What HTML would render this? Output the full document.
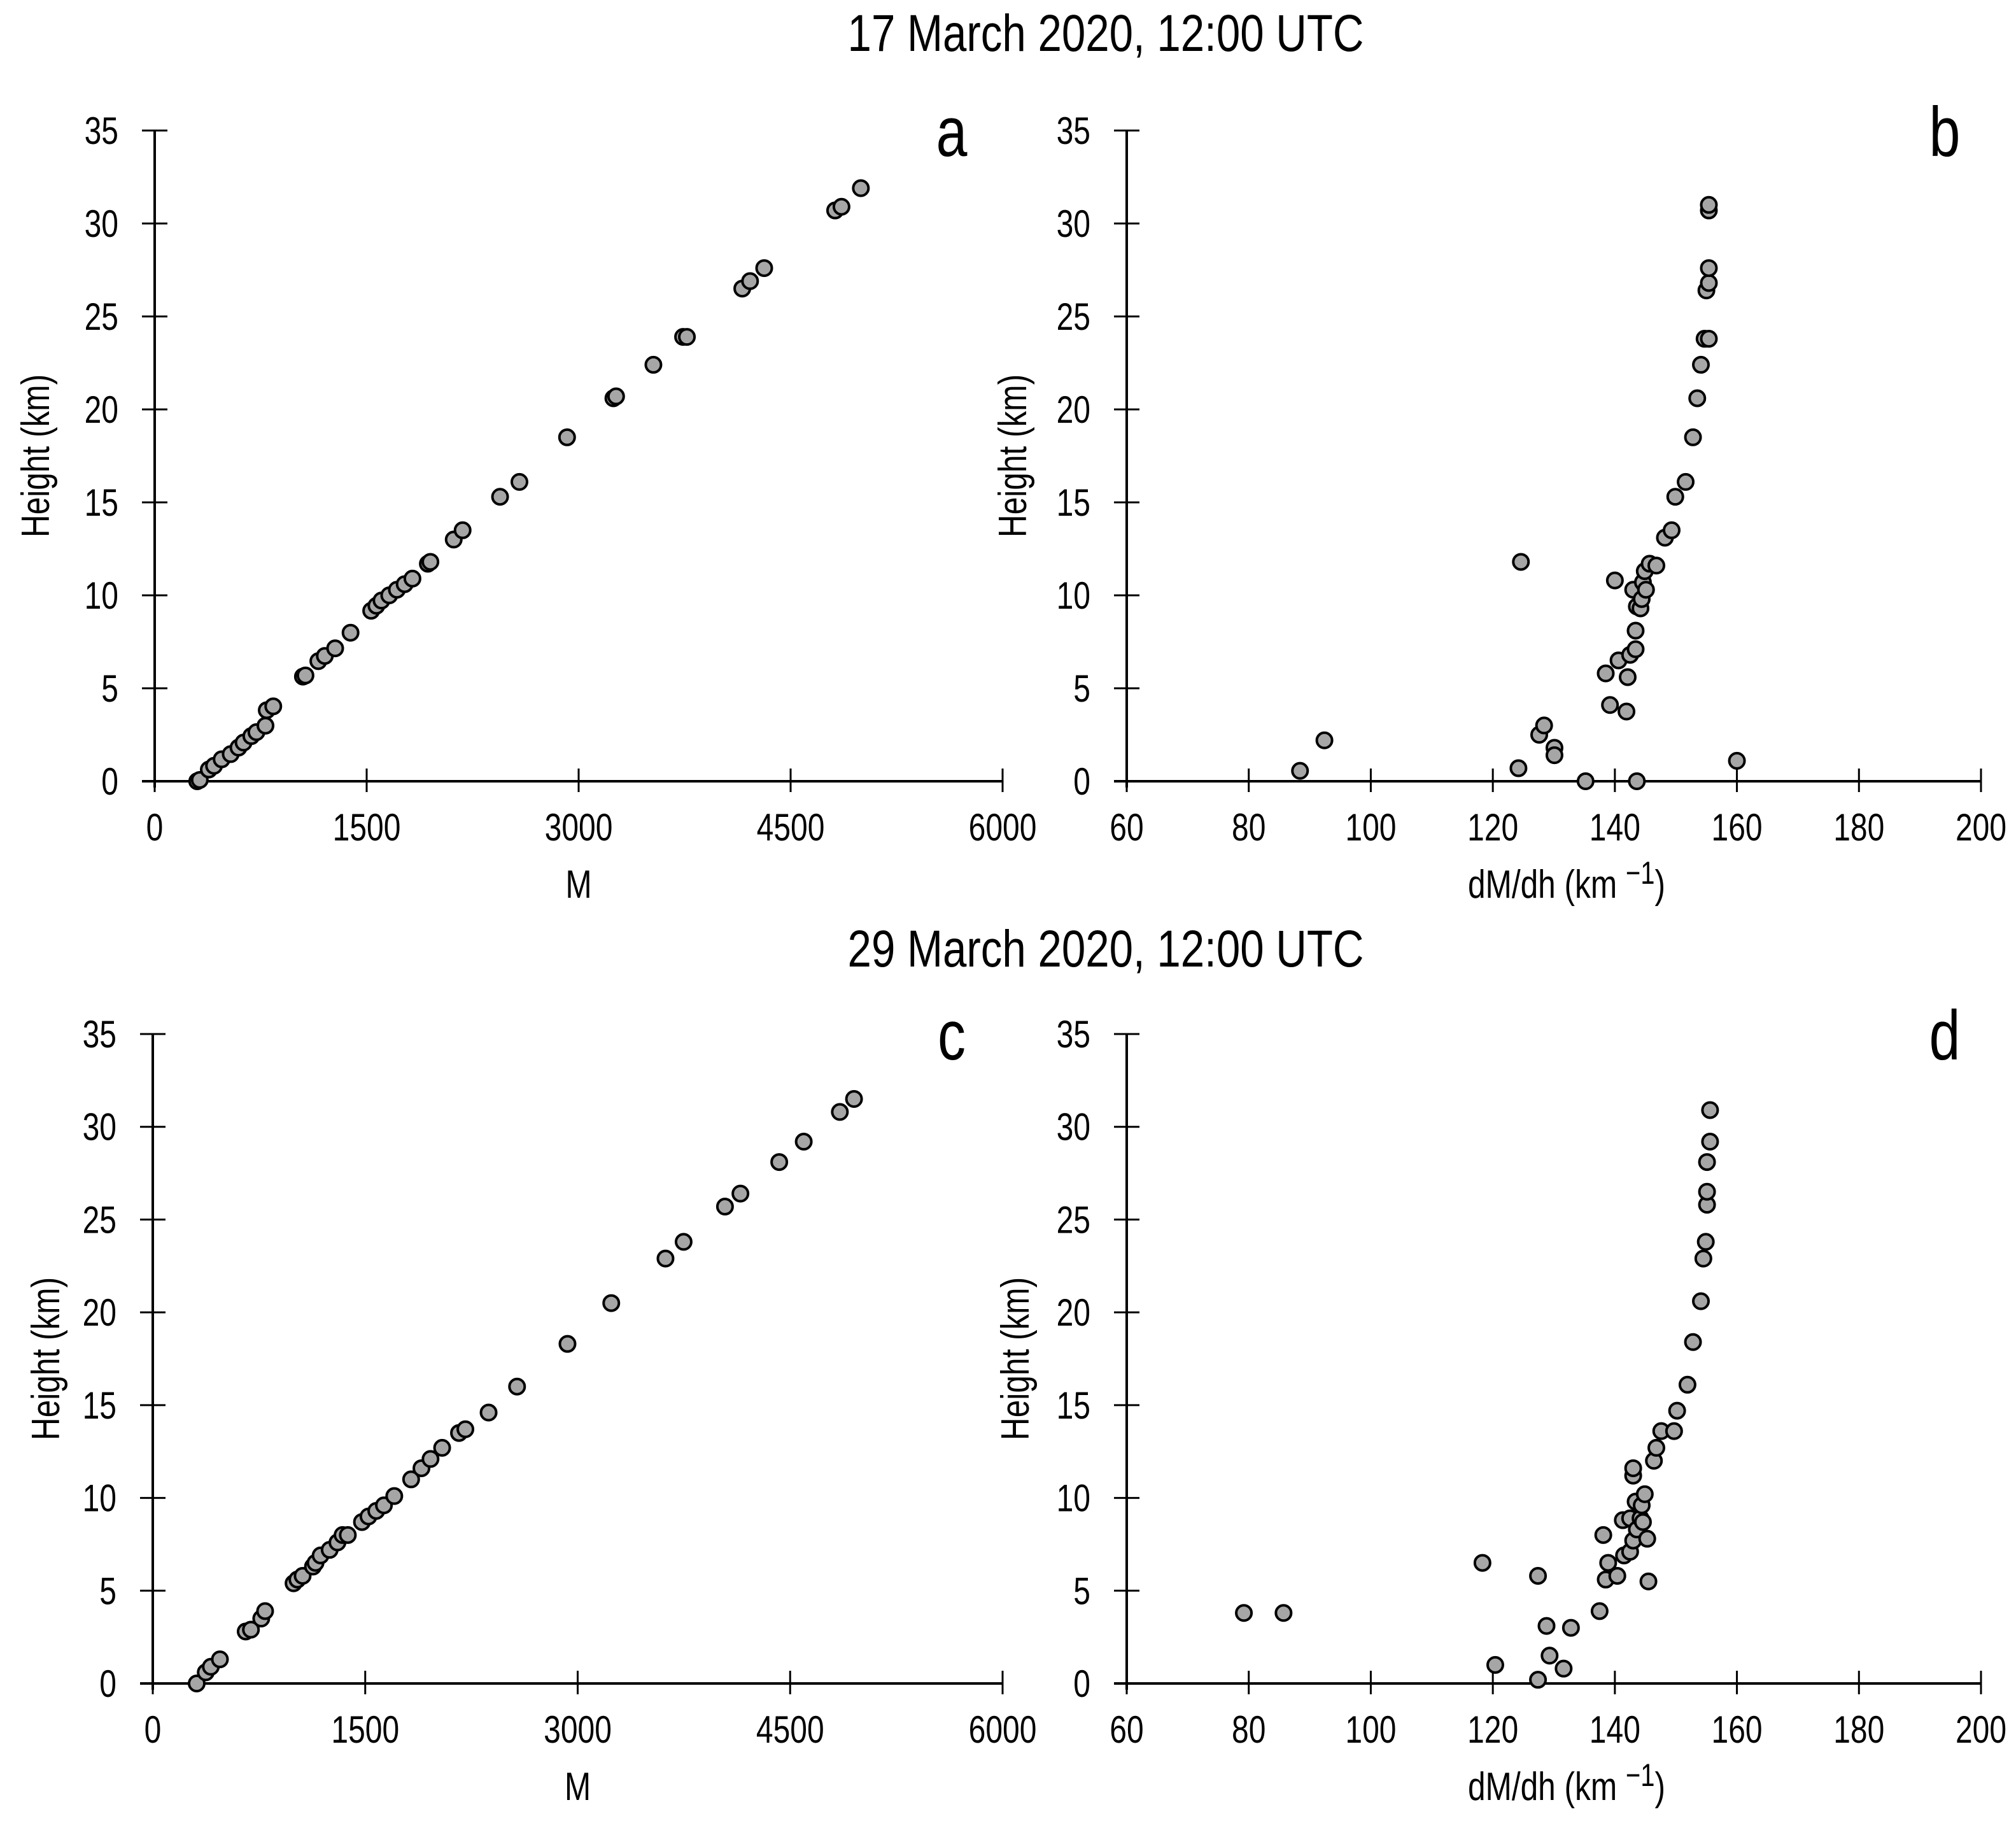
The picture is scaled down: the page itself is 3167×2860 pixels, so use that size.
<!DOCTYPE html>
<html><head><meta charset="utf-8"><style>
html,body{margin:0;padding:0;background:#fff}
svg{display:block}
text{font-family:"Liberation Sans Narrow","Liberation Sans",sans-serif;fill:#000}
</style></head><body>
<svg id="fig" width="3167" height="2860" viewBox="0 0 3167 2860" xmlns="http://www.w3.org/2000/svg">
<text transform="translate(1737,80) scale(0.82,1)" font-size="82" text-anchor="middle">17 March 2020, 12:00 UTC</text>
<text transform="translate(1737,1518) scale(0.82,1)" font-size="82" text-anchor="middle">29 March 2020, 12:00 UTC</text>
</svg>
<script>
// Panel a: M vs height
const aM=[301,319,383,420,474,538,593,629,684,720,784,793,839,1049,1067,1158,1204,1277,1386,1532,1569,1605,1660,1714,1769,1824,1933,1951,2116,2179,2444,2581,2918,3246,3265,3529,3739,3766,4158,4213,4313,4815,4860,4997];
const aH=[0,0.07,0.63,0.83,1.18,1.46,1.81,2.08,2.43,2.64,2.99,3.82,4.03,5.63,5.69,6.46,6.74,7.15,7.99,9.17,9.44,9.72,10.0,10.3,10.6,10.9,11.7,11.8,13.0,13.5,15.3,16.1,18.5,20.6,20.7,22.4,23.9,23.9,26.5,26.9,27.6,30.7,30.9,31.9];
// Panel b: dM/dh vs height
const bD=[88.4,92.4,124.2,127.6,128.4,130.1,130.1,135.2,143.6,160,124.6,140,138.5,139.2,141.9,140.6,142.1,142.5,143.4,143.4,143,143.6,144.2,144.4,144.6,144.9,145.1,145.7,146.8,148.2,149.3,149.9,151.6,152.8,153.5,154.1,154.7,155.4,155,155.4,155.4,155.4,155.4];
const bH=[0.56,2.2,0.7,2.5,3.0,1.8,1.4,0,0,1.1,11.8,10.8,5.8,4.1,3.75,6.5,5.6,6.8,7.1,8.1,10.3,9.4,9.3,9.8,10.7,11.3,10.3,11.7,11.6,13.1,13.5,15.3,16.1,18.5,20.6,22.4,23.8,23.8,26.4,26.8,27.6,30.7,31.0];
// Panel c
const cM=[310,374,410,474,656,693,766,793,994,1021,1058,1131,1149,1185,1249,1304,1340,1377,1477,1523,1578,1632,1705,1824,1897,1961,2043,2162,2207,2371,2572,2928,3237,3620,3748,4040,4149,4423,4596,4851,4951];
const cH=[0,0.6,0.9,1.3,2.8,2.9,3.5,3.9,5.4,5.6,5.8,6.3,6.5,6.9,7.2,7.6,8.0,8.0,8.7,9.0,9.3,9.6,10.1,11.0,11.6,12.1,12.7,13.5,13.7,14.6,16.0,18.3,20.5,22.9,23.8,25.7,26.4,28.1,29.2,30.8,31.5];
// Panel d
const dD=[79.2,85.7,118.3,120.4,127.4,127.4,128.8,129.3,131.6,132.8,137.5,138.1,138.5,138.9,140.4,141.3,141.5,142.5,142.5,143,143,143,143.4,143.6,144.2,144.4,144.9,144.6,145.3,145.5,146.4,146.8,147.6,149.7,150.2,151.9,152.8,154.1,154.5,154.9,155.1,155.1,155.1,155.6,155.6];
const dH=[3.8,3.8,6.5,1.0,5.8,0.2,3.1,1.5,0.8,3.0,3.9,8.0,5.6,6.5,5.8,8.8,6.9,7.1,8.9,7.7,11.2,11.6,9.8,8.3,8.9,9.6,10.2,8.7,7.8,5.5,12.0,12.7,13.6,13.6,14.7,16.1,18.4,20.6,22.9,23.8,25.8,26.5,28.1,29.2,30.9];
const mTicks=[0,1500,3000,4500,6000];
const dTicks=[60,80,100,120,140,160,180,200];
const hTicks=[0,5,10,15,20,25,30,35];

const NS="http://www.w3.org/2000/svg";
const svg=document.getElementById('fig');
const SX=0.8;
function mk(tag,attrs,parent){const e=document.createElementNS(NS,tag);for(const k in attrs)e.setAttribute(k,attrs[k]);(parent||svg).appendChild(e);return e;}
function txt(x,y,size,anchor,parent,rot){const t=mk('text',{'font-size':size,'text-anchor':anchor,transform:`translate(${x},${y})`+(rot?' rotate(-90)':'')+` scale(${SX},1)`},parent);return t;}

const panels=[
 {id:'a',xs:aM,ys:aH,xt:mTicks,x0:243,x1:1575,y0:1227,y1:205,xl:'M',letter:'a',lx:1495,ylx:57},
 {id:'b',xs:bD,ys:bH,xt:dTicks,x0:1770,x1:3112,y0:1227,y1:205,xl:'dM/dh',letter:'b',lx:3055,ylx:1592},
 {id:'c',xs:cM,ys:cH,xt:mTicks,x0:240,x1:1575,y0:2644,y1:1624,xl:'M',letter:'c',lx:1495,ylx:73},
 {id:'d',xs:dD,ys:dH,xt:dTicks,x0:1770,x1:3112,y0:2644,y1:1624,xl:'dM/dh',letter:'d',lx:3055,ylx:1596}
];
panels.forEach(p=>{
 const g=mk('g',{});
 
 
 const xmin=p.xt[0],xmax=p.xt[p.xt.length-1];
 const X=v=>p.x0+(v-xmin)/(xmax-xmin)*(p.x1-p.x0);
 const Y=v=>p.y0+(v-0)/35*(p.y1-p.y0);
 const ya=mk('line',{x1:p.x0,y1:p.y0+10,x2:p.x0,y2:p.y1,stroke:'#000','stroke-width':4},g);
 
 
 const xa=mk('line',{x1:p.x0-20,y1:p.y0,x2:p.x1,y2:p.y0,stroke:'#000','stroke-width':4},g);
 
 
 hTicks.forEach(t=>{
  const y=Y(t);
  mk('line',{x1:p.x0-20,y1:y,x2:p.x0+20,y2:y,stroke:'#000','stroke-width':3},g);
  const tx=txt(p.x0-57,y+21,60,'end',g);
  tx.textContent=t;
  
  
 });
 p.xt.forEach(t=>{
  const x=X(t);
  mk('line',{x1:x,y1:p.y0-20,x2:x,y2:p.y0+17,stroke:'#000','stroke-width':3},g);
  const tx=txt(x,p.y0+93,60,'middle',g);
  tx.textContent=t;
  
  
 });
 const yl=txt(p.ylx+20,(p.y0+p.y1)/2,62,'middle',g,true);
 yl.textContent='Height (km)';
 
 
 const xl=txt((p.x0+p.x1)/2+(p.xl==='M'?0:20),p.y0+183,62,'middle',g);
 if(p.xl==='M'){xl.textContent='M';}
 else{xl.textContent='dM/dh (km ';const s=mk('tspan',{dy:-22,'font-size':50},xl);s.textContent='\u22121';const s2=mk('tspan',{dy:22},xl);s2.textContent=')';}
 
 
 const lt=txt(p.lx,p.y1+40,110,'middle',g);
 lt.textContent=p.letter;
 
 
 for(let i=0;i<p.xs.length;i++){
  const c=mk('circle',{cx:X(p.xs[i]),cy:Y(p.ys[i]),r:12,fill:'#a6a6a6',stroke:'#000','stroke-width':4},g);
  
  
 }
});
</script>
</body></html>
